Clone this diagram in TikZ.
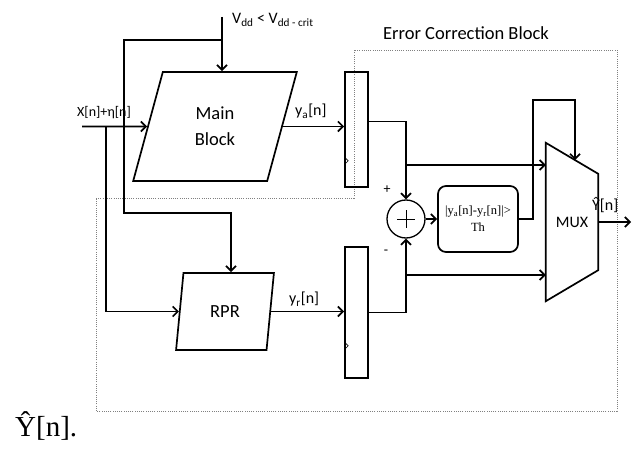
\documentclass[tikz,border=0pt]{standalone}
\usepackage{fontspec}
\setmainfont{Liberation Serif}
\newfontfamily\calibri{Carlito}
\usetikzlibrary{arrows.meta,shapes.geometric,calc}

\tikzset{
    wire/.style = {line width = 1.7pt},
    blk/.style = {draw, wire, trapezium, trapezium stretches = true, inner sep = 0pt,
        align = center, font = \calibri\fontsize{18.5}{26}\selectfont},
    regbox/.style = {draw, wire, minimum width = 23pt, inner sep = 0pt},
    addbox/.style = {draw, line width = 1.3pt, circle, minimum size = 38pt, inner sep = 0pt,
        path picture = {
            \draw[line width = 0.6pt] ([xshift = -9pt]path picture bounding box.center)
                -- ([xshift = 9pt]path picture bounding box.center);
            \draw[line width = 0.6pt] ([yshift = -9pt]path picture bounding box.center)
                -- ([yshift = 9pt]path picture bounding box.center);
        }},
    cmpbox/.style = {draw, wire, rounded corners = 8pt, minimum width = 80pt,
        minimum height = 66pt, inner sep = 0pt, align = center,
        font = \fontsize{12.5}{17}\selectfont},
    lbl/.style = {inner sep = 0pt, font = \calibri\fontsize{16}{18}\selectfont},
    ecb/.style = {gray, line width = 0.7pt, dash pattern = on 1pt off 1.2pt},
}

\begin{document}
\begin{tikzpicture}[x = 1pt, y = -1pt, >={Straight Barb[length = 5pt, width = 10pt]}]
    \useasboundingbox (0, 0) rectangle (633, 449);

    \draw[ecb] (96, 198) -- (354, 198) -- (354, 50) -- (617, 50)
        -- (617, 411) -- (96, 411) -- cycle;
    \node[lbl, font = \calibri\fontsize{18.5}{20}\selectfont] (ecbtitle) at (466, 33) {Error Correction Block};

    \node[blk, trapezium left angle = 73.6, trapezium right angle = 106.4,
        minimum width = 164pt, minimum height = 109pt] (mainblk) at (215, 126.5) {Main\\Block};
    \node[blk, trapezium left angle = 77.5, trapezium right angle = 102.5,
        minimum width = 98pt, minimum height = 77pt] (rpr) at (225, 311.5) {RPR};

    \node[regbox, minimum height = 115pt] (reg1) at (356.5, 129.5) {};
    \node[regbox, minimum height = 131pt] (reg2) at (356.5, 312.5) {};
    \draw[line width = 0.7pt] (reg1.south west) ++(1, -30) -- ++(3, 3) -- ++(-3, 3);
    \draw[line width = 0.7pt] (reg2.south west) ++(1, -36) -- ++(3, 3) -- ++(-3, 3);

    \node[addbox] (adder) at (406, 219) {};
    \node[cmpbox] (cmp) at (478, 219) {|y\textsubscript{a}[n]-y\textsubscript{r}[n]|>\\Th};

    \node[lbl, minimum width = 52pt, minimum height = 158pt] (mux) at (572, 222) {MUX};
    \draw[wire] (mux.north west) -- ($(mux.north east) + (0, 31)$)
        -- ($(mux.south east) + (0, -31)$) -- (mux.south west) -- cycle;

    \coordinate (vdd) at (222, 17);
    \coordinate (xin) at (82, 126.5);
    \coordinate (xtap) at (106, 126.5);
    \coordinate (ina) at (mux.west |- 0, 165);
    \coordinate (inb) at (mux.west |- 0, 275);
    \coordinate (sela) at (575, 160);
    \coordinate (yout) at (631, 222);

    \draw[wire, ->] (vdd) -- (vdd |- mainblk.north);
    \draw[wire, ->] (vdd |- 0, 40) -| (124, 213) -| ([xshift = 6pt]rpr.north);
    \draw[wire, ->] (xin) -- (mainblk.west);
    \draw[wire, ->] (xtap) |- (rpr.west);
    \draw[wire, ->] (mainblk.east) -- (mainblk.east -| reg1.west);
    \draw[wire, ->] (rpr.east) -- (rpr.east -| reg2.west);
    \draw[wire, ->] ([yshift = 8pt]reg1.east) -| (adder.north);
    \draw[wire, ->] (reg2.east) -| (adder.south);
    \draw[wire, ->] (adder |- ina) -- (ina);
    \draw[wire, ->] (adder |- inb) -- (inb);
    \draw[wire, ->] (adder.east) -- (adder.east -| cmp.west);
    \draw[wire, ->] (cmp.east) -- ++(14, 0) |- (sela |- 0, 100) -- (sela);
    \draw[wire, ->] (mux.east) -- (yout);

    \node[lbl, anchor = base west] (vddlbl) at (232, 24) {V\textsubscript{dd} < V\textsubscript{dd - crit}};
    \node[lbl, anchor = base west, font = \calibri\fontsize{14}{16}\selectfont] (xlbl) at (77, 117) {X[n]+η[n]};
    \node[lbl, anchor = base west] (yalbl) at (295, 116) {y\textsubscript{a}[n]};
    \node[lbl, anchor = base west] (yrlbl) at (289, 304) {y\textsubscript{r}[n]};
    \node[lbl, anchor = base west] (youtlbl) at (592, 211) {Ŷ[n]};
    \node[lbl, font = \calibri\fontsize{14}{16}\selectfont] (plus) at (387, 190) {+};
    \node[lbl, font = \calibri\fontsize{14}{16}\selectfont] (minus) at (386, 252) {-};

    \node[anchor = base west, inner sep = 0pt, font = \fontsize{29}{32}\selectfont] (caption) at (15, 437) {Ŷ[n].};
\end{tikzpicture}
\end{document}
